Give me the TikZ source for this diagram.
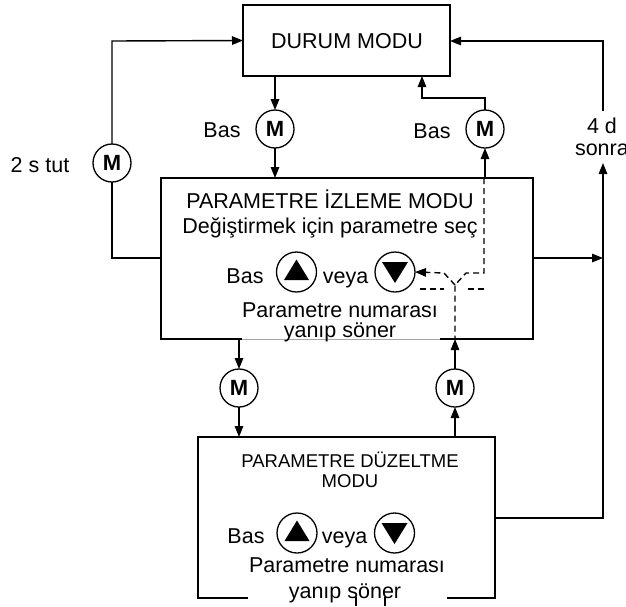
\documentclass[tikz,border=0pt]{standalone}
\usepackage{fontspec}
\setmainfont{Liberation Sans}
\usetikzlibrary{arrows.meta,calc}
\begin{document}
\begin{tikzpicture}[x=1pt,y=-1pt,
  line width=1.4pt,
  every node/.style={inner sep=0pt, outer sep=0pt},
  txt/.style={anchor=base, font=\fontsize{21.5}{25}\selectfont},
  smalltxt/.style={anchor=base, font=\fontsize{18.5}{22}\selectfont},
  modebox/.style={draw, line width=1.3pt},
  mkey/.style={circle, draw, line width=1.3pt, minimum size=38pt,
    font=\fontsize{22}{25}\selectfont\bfseries},
  akey/.style={circle, draw, line width=1.3pt, minimum size=40pt},
  arr/.style={-{Triangle[length=11pt,width=8.5pt]}},
  dsh/.style={dash pattern=on 6pt off 4pt},
]
\useasboundingbox (0,0) rectangle (626,606);
\clip (0,0) rectangle (626,606);

% ---------- boxes ----------
\node[modebox, minimum width=207pt, minimum height=71pt] (durum) at (346.5,40.5) {};
\node[txt] at (347,48) {DURUM MODU};

\node[minimum width=372pt, minimum height=161pt] (izle) at (347,258.5) {};
\coordinate (izleBL) at (242,339);
\coordinate (izleBR) at (440,339);
\draw[line width=1.3pt] (izleBL) -- (izle.south west) -- (izle.north west)
  -- (izle.north east) -- (izle.south east) -- (izleBR);
\draw[line width=0.9pt, black!35] (izleBL) -- (izleBR);

\node[minimum width=297pt, minimum height=161pt] (duzelt) at (346.5,517.5) {};
\coordinate (duzBL) at (248,598);
\coordinate (duzBR) at (447,598);
\draw[line width=1.3pt] (duzBL) -- (duzelt.south west) -- (duzelt.north west)
  -- (duzelt.north east) -- (duzelt.south east) -- (duzBR);

% ---------- texts of the monitoring box ----------
\node[txt] at (330,208) {PARAMETRE İZLEME MODU};
\node[txt] at (330,233) {Değiştirmek için parametre seç};
\node[txt] at (245,283) {Bas};
\node[akey] (up1) at (296.5,272) {};
\fill ($(up1)+(0,-12.5)$) -- ($(up1)+(12.5,8)$) -- ($(up1)+(-12.5,8)$) -- cycle;
\node[txt] at (345.5,283) {veya};
\node[akey] (dn1) at (395,272) {};
\fill ($(dn1)+(0,11)$) -- ($(dn1)+(13,-10)$) -- ($(dn1)+(-13,-10)$) -- cycle;
\node[txt] at (340,317) {Parametre numarası};
\node[txt] at (340,337) {yanıp söner};

% ---------- texts of the editing box ----------
\node[smalltxt] at (350,467) {PARAMETRE DÜZELTME};
\node[smalltxt] at (350,487) {MODU};
\node[txt] at (246,543) {Bas};
\node[akey] (up2) at (297,533) {};
\fill ($(up2)+(0,-12.5)$) -- ($(up2)+(12.5,8)$) -- ($(up2)+(-12.5,8)$) -- cycle;
\node[txt] at (344.5,543) {veya};
\node[akey] (dn2) at (394.5,533) {};
\fill ($(dn2)+(0,11)$) -- ($(dn2)+(13,-10)$) -- ($(dn2)+(-13,-10)$) -- cycle;
\node[txt] at (347,572) {Parametre numarası};
\node[txt] at (345,598) {yanıp söner};
\coordinate (tickA) at (356,597);
\coordinate (tickB) at (385,597);
\coordinate (tickAe) at (356,606);
\coordinate (tickBe) at (385,606);
\draw[line width=1.3pt] (tickA) -- (tickAe) (tickB) -- (tickBe);

% ---------- M keys ----------
\node[mkey] (mA) at (275,129) {M};
\node[txt] at (222,137) {Bas};
\node[mkey] (mB) at (485,129) {M};
\node[txt] at (432,138) {Bas};
\node[mkey] (mL) at (112,163) {M};
\node[txt] at (40,172) {2 s tut};
\node[mkey] (mC) at (239,388) {M};
\node[mkey] (mD) at (455,388) {M};

% ---------- connectors ----------
% status mode -> monitoring mode
\draw[arr, line width=1.8pt] (durum.south -| mA) -- (mA.north);
\draw[arr] (mA.south) -- (mA |- izle.north);

% monitoring mode -> status mode
\coordinate (bendB) at (485,98);
\coordinate (upB) at (422,98);
\draw[arr] (mB.north) -- (bendB) -- (upB) -- (upB |- durum.south);

% hold 2 s loop on the left
\coordinate (lA) at (112,258);
\coordinate (lB) at (112,41);
\draw (izle.west |- lA) -- (lA) -- (mL.south);
\draw[arr] (mL.north) -- (lB) -- (durum.west);

% time-out loop on the right
\coordinate (rA) at (603,258);
\coordinate (rTop) at (603,111);
\coordinate (rTopB) at (603,41);
\coordinate (rArr) at (603,163);
\coordinate (rLow) at (603,518);
\draw[arr] (izle.east |- rA) -- (rA);
\draw[arr] (duzelt.east |- rLow) -- (rLow) -- (rArr);
\draw[arr] (rTop) -- (rTopB) -- (durum.east |- rTopB);
\node[anchor=base west, font=\fontsize{21.5}{25}\selectfont] at (587,133) {4 d};
\node[anchor=base west, font=\fontsize{21.5}{25}\selectfont] at (575,155) {sonra};

% monitoring mode <-> editing mode
\draw[arr] (mC |- izle.south) -- (mC.north);
\draw[arr] (mC.south) -- (mC |- duzelt.north);
\draw[arr] (mD |- duzelt.north) -- (mD.south);
\draw[arr] (mD.north) -- (mD |- izle.south);

% dashed selection paths inside the monitoring box
\coordinate (dTop) at (484,178);
\coordinate (dCorner) at (484,273);
\coordinate (dR) at (466,273);
\coordinate (dY) at (455,285);
\coordinate (dL) at (444,273);
\coordinate (dStem) at (455,339);
\draw[arr] (mB |- izle.north) -- (mB.south);
\draw[dsh] (dTop) -- (dCorner) -- (dR) -- (dY) -- (dStem);
\draw[dsh, arr] (dY) -- (dL) -- (dn1.east);
\coordinate (lo1) at (420,289);
\coordinate (lo2) at (444,289);
\coordinate (lo3) at (468,289);
\coordinate (lo4) at (484,289);
\draw[dsh] (lo1) -- (lo2) (lo3) -- (lo4);
\end{tikzpicture}
\end{document}
